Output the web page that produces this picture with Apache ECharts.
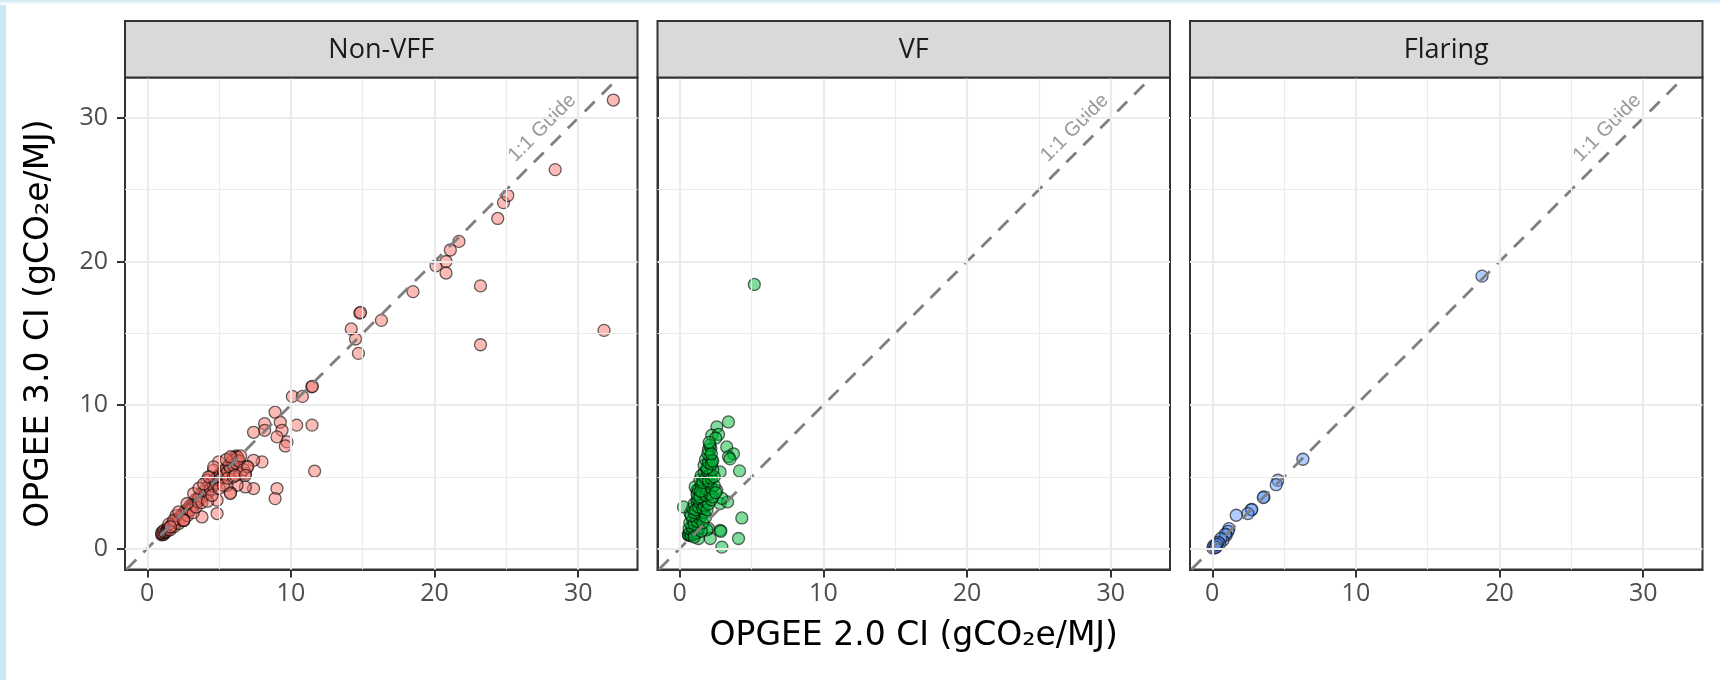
<!DOCTYPE html>
<html>
<head>
<meta charset="utf-8">
<script src="https://cdn.jsdelivr.net/npm/echarts@6/dist/echarts.min.js"></script>
<style>
  html, body { margin: 0; padding: 0; background: #ffffff; }
  #chart { width: 1720px; height: 680px; }
</style>
</head>
<body>
<div id="chart"></div>
<script>
// ---------- data ----------
const panels = ['Non-VFF', 'VF', 'Flaring'];
const xTitle = 'OPGEE 2.0 CI (gCO\u2082e/MJ)';
const yTitle = 'OPGEE 3.0 CI (gCO\u2082e/MJ)';
const guideText = '1:1 Guide';
const majorTicks = [0, 10, 20, 30];
const minorTicks = [5, 15, 25];
const guideEnds = [-5, 40];
const guideLabelPos = [27.5, 29.3];

// Non-VFF: [OPGEE 2.0 CI, OPGEE 3.0 CI]
const nonVFF = [
  [32.45,31.25],[28.4,26.4],[24.8,24.1],[25.1,24.6],[24.4,23.0],[21.7,21.4],[21.1,20.8],
  [20.1,19.7],[20.8,20.0],[20.8,19.2],[23.2,18.3],[18.5,17.9],[14.8,16.4],[14.85,16.45],
  [16.3,15.9],[14.2,15.3],[14.5,14.6],[14.7,13.6],[23.2,14.2],[31.8,15.2],
  [11.45,11.27],[11.5,11.3],[10.1,10.6],[10.8,10.6],[8.9,9.5],[9.26,8.8],[9.38,8.24],
  [9.03,7.78],[9.73,7.43],[9.61,7.15],[8.17,8.7],[8.17,8.24],[7.4,8.1],[10.4,8.6],
  [11.47,8.6],[11.65,5.4],[9.03,4.18],[8.9,3.48],[7.99,6.04],[7.4,6.15],[7.4,4.18],
  [6.83,4.29],[6.25,4.41],[5.8,3.9],[4.86,2.44],[3.81,2.2],[4.97,6.04],
  [6.01,6.27],[6.25,6.38],[5.9,6.15],[6.36,6.04],[6.1,6.3],[6.2,6.45],[5.95,6.35],
  [6.94,5.69],[6.83,5.23],[6.25,5.46],[5.55,4.41],[5.09,5.23],[4.62,5.46],[4.39,4.99],
  [4.16,4.76],[4.86,3.37],
  [1.0,0.95],[1.05,1.0],[1.1,1.05],[1.15,0.98],[1.2,1.1],[1.0,1.1],[1.1,1.2],[1.25,1.15],
  [1.3,1.25],[1.2,1.3],[1.35,1.2],[1.4,1.35],[1.45,1.3],[1.5,1.45],[1.55,1.4],[1.6,1.55],
  [1.65,1.5],[1.7,1.65],[1.75,1.6],[1.8,1.75],[1.85,1.7],[1.9,1.85],[1.95,1.8],[2.0,1.95],
  [2.05,1.85],[2.1,2.05],[2.15,2.0],[2.2,2.15],[2.25,2.05],[2.3,2.25],[2.35,2.15],[2.4,2.35],
  [2.45,2.2],[2.5,2.45],[2.55,2.3],[2.6,2.55],[2.7,2.5],[2.75,2.7],[2.8,2.6],[2.9,2.85],
  [2.95,2.7],[3.0,3.0],[3.1,2.85],[3.15,3.1],[3.2,2.95],[3.3,3.3],[3.35,3.1],[3.4,3.45],
  [3.5,3.3],[3.6,3.6],[3.7,3.4],[3.75,3.8],[3.85,3.6],[3.9,3.95],[4.0,3.75],[4.1,4.2],
  [4.2,3.95],[4.3,4.4],[4.4,4.15],[4.5,4.6],[4.6,4.35],[4.7,4.8],[4.8,4.55],[4.9,5.0],
  [5.0,4.8],[5.1,5.2],[5.2,4.95],[5.3,5.4],[5.4,5.15],[5.5,5.6],[5.6,5.35],[5.7,5.8],
  [5.8,5.6],[5.9,6.0],[6.0,5.8],[6.1,6.2],[6.2,5.95],[6.3,6.35],[6.4,6.1],[6.5,6.45],
  [1.6,1.3],[1.9,1.55],[2.2,1.75],[2.5,1.95],[2.55,1.97],[2.8,2.3],[3.0,2.67],[3.2,2.5],
  [3.58,3.48],[3.4,2.9],[3.8,3.2],[4.2,3.3],[4.5,3.7],[5.0,4.2],[5.3,4.4],[5.78,3.83],
  [5.6,4.9],[6.0,5.0],[6.5,5.2],[6.7,5.5],[7.0,5.7],
  [2.77,3.14],[3.23,3.83],[3.6,4.2],[3.93,4.5],[4.27,5.0],[4.62,5.69],[2.0,2.3],[1.5,1.7],
  [5.5,6.2],[5.8,6.4],[6.13,5.1],[6.83,5.1],[1.84,1.97],[2.19,2.56],[2.54,1.97],[1.61,1.51]
];

// VF
const vf = [
  [5.19,18.4],[3.39,8.82],[2.58,8.48],[2.23,7.9],[2.7,7.95],[2.5,7.7],[2.16,6.97],[3.27,7.08],
  [3.74,6.6],[3.39,6.4],[3.5,6.25],[4.16,5.41],[2.23,6.15],[2.12,5.57],[2.81,5.34],[1.65,4.18],
  [1.19,4.07],[0.26,2.9],[0.72,2.43],[2.81,3.14],[4.32,2.13],[0.72,0.93],[2.0,1.4],[2.81,1.27],
  [4.09,0.7],[2.93,0.1],[2.12,0.7],[1.3,0.7],[3.33,3.25],[2.93,3.5],[1.07,4.3],[1.65,4.2],
  [2.58,4.05],[0.61,0.93],[1.88,1.3],[2.86,1.2],
  [0.6,1.0],[0.7,1.1],[0.8,0.9],[0.9,1.2],[1.0,1.0],[1.1,1.3],[0.65,1.4],[1.2,1.1],[0.85,1.5],
  [1.3,1.4],[1.0,0.8],[1.5,1.2],
  [0.7,1.8],[0.9,2.0],[1.0,1.7],[1.1,2.2],[1.2,1.9],[1.3,2.4],[1.4,2.1],[1.5,2.3],[0.8,2.3],
  [1.6,1.8],[1.7,2.5],[1.8,2.2],[1.0,2.5],
  [0.9,2.8],[1.0,3.1],[1.1,2.7],[1.2,3.3],[1.3,2.9],[1.4,3.2],[1.5,3.4],[1.6,2.8],[1.7,3.0],
  [1.8,3.3],[1.9,2.7],[2.0,3.1],[2.2,3.4],[1.25,3.5],
  [1.2,3.8],[1.3,4.1],[1.4,3.6],[1.5,4.4],[1.6,3.9],[1.7,4.3],[1.8,3.7],[1.9,4.1],[2.0,4.5],
  [2.1,3.8],[2.2,4.2],[2.3,3.6],[2.4,4.4],[1.45,4.0],[2.5,3.9],
  [1.4,4.8],[1.5,5.1],[1.6,4.6],[1.7,5.3],[1.8,4.9],[1.9,5.4],[2.0,4.7],[2.1,5.2],[2.2,4.9],
  [2.4,5.0],[2.3,5.5],
  [1.7,5.8],[1.8,6.2],[1.9,5.6],[2.0,6.0],[2.1,6.4],[2.2,5.9],[1.95,6.6],[2.3,6.1],
  [2.0,6.9],[2.1,7.2],[2.2,6.6],[2.05,7.4]
];

// Flaring
const flaring = [
  [18.78,18.98],[6.31,6.22],[4.57,4.76],[4.45,4.45],[3.6,3.6],[3.55,3.55],[2.72,2.7],
  [2.75,2.72],[2.48,2.44],[1.67,2.32],[1.16,1.39],[1.1,1.2],[0.97,0.93],[0.9,1.0],
  [0.74,0.58],[0.6,0.7],[0.51,0.35],[0.4,0.45],[0.16,0.16],[0.04,0.04],[0.28,0.11],
  [0.1,0.2],[0.2,0.05],[0.3,0.3]
];

const seriesData = [nonVFF, vf, flaring];
const fills = ['rgba(248,118,109,0.5)', 'rgba(0,186,56,0.5)', 'rgba(97,156,255,0.5)'];

// ---------- layout ----------
const gridLefts = [125, 657.5, 1190];
const gridTop = 77.5, gridW = 512.5, gridH = 492;
const stripTop = 21;
const xRange = [-1.55, 34.13], yRange = [-1.46, 32.82];
const TICK_FONT = "'Open Sans', 'DejaVu Sans', sans-serif";
const TITLE_FONT = "'DejaVu Sans', 'Open Sans', sans-serif";
const GUIDE_FONT = "'Liberation Sans', Arial, sans-serif";

const grids = [], xAxes = [], yAxes = [], series = [], graphics = [];

graphics.push({ type: 'rect', shape: { x: 0, y: 0, width: 6, height: 680 }, style: { fill: '#cbe7f1' }, silent: true });
graphics.push({ type: 'rect', shape: { x: 0, y: 0, width: 1720, height: 5 },
  style: { fill: new echarts.graphic.LinearGradient(0, 0, 0, 1, [{ offset: 0, color: '#cfe8f2' }, { offset: 1, color: '#ffffff' }]) }, silent: true });

panels.forEach((name, i) => {
  grids.push({ left: gridLefts[i], top: gridTop, width: gridW, height: gridH,
    show: true, backgroundColor: '#ffffff', borderColor: '#333333', borderWidth: 2, containLabel: false });
  xAxes.push({ gridIndex: i, type: 'value', min: xRange[0], max: xRange[1],
    axisLine: { show: true, onZero: false, lineStyle: { color: '#333333', width: 2 } },
    axisTick: { show: true, length: 8, customValues: majorTicks, lineStyle: { color: '#333333', width: 2 } },
    axisLabel: { show: true, customValues: majorTicks, margin: 12, fontFamily: TICK_FONT, fontSize: 25, color: '#4d4d4d' },
    splitLine: { show: false }, minorTick: { show: false } });
  yAxes.push({ gridIndex: i, type: 'value', min: yRange[0], max: yRange[1],
    axisLine: { show: true, onZero: false, lineStyle: { color: '#333333', width: 2 } },
    axisTick: { show: i === 0, length: 8, customValues: majorTicks, lineStyle: { color: '#333333', width: 2 } },
    axisLabel: { show: i === 0, customValues: majorTicks, margin: 17, fontFamily: TICK_FONT, fontSize: 25, color: '#4d4d4d' },
    splitLine: { show: false } });

  const gl = [];
  majorTicks.forEach(v => { gl.push({ xAxis: v, lineStyle: { width: 2.2 } }); gl.push({ yAxis: v, lineStyle: { width: 2.2 } }); });
  minorTicks.forEach(v => { gl.push({ xAxis: v, lineStyle: { width: 1.1 } }); gl.push({ yAxis: v, lineStyle: { width: 1.1 } }); });
  series.push({ type: 'line', xAxisIndex: i, yAxisIndex: i, data: [], z: 1, silent: true,
    markLine: { silent: true, symbol: 'none', animation: false, label: { show: false },
      lineStyle: { color: '#ebebeb', type: 'solid' }, data: gl } });

  series.push({ type: 'scatter', name: name, xAxisIndex: i, yAxisIndex: i, data: seriesData[i], z: 2,
    symbol: 'circle', symbolSize: 12,
    itemStyle: { color: fills[i], borderColor: 'rgba(0,0,0,0.6)', borderWidth: 1.3, opacity: 1 } });

  series.push({ type: 'line', xAxisIndex: i, yAxisIndex: i, data: guideEnds.map(v => [v, v]), z: 3,
    symbol: 'none', silent: true, clip: true,
    lineStyle: { color: '#7f7f7f', width: 2.8, type: [14, 10] } });

  series.push({ type: 'scatter', xAxisIndex: i, yAxisIndex: i, data: [guideLabelPos], z: 4,
    symbolSize: 0, silent: true,
    label: { show: true, position: 'inside', formatter: guideText, rotate: 45,
      fontFamily: GUIDE_FONT, fontSize: 20, color: '#7f7f7f' } });

  graphics.push({ type: 'rect', shape: { x: gridLefts[i], y: stripTop, width: gridW, height: gridTop - stripTop },
    style: { fill: '#d9d9d9', stroke: '#333333', lineWidth: 2 }, silent: true, z: 10 });
  graphics.push({ type: 'text', x: gridLefts[i] + gridW / 2, y: (stripTop + gridTop) / 2 + 1,
    style: { text: name, font: "27px 'Open Sans', 'DejaVu Sans', sans-serif", fill: '#1a1a1a', align: 'center', verticalAlign: 'middle' }, silent: true, z: 11 });
});

graphics.push({ type: 'text', x: (gridLefts[0] + gridLefts[2] + gridW) / 2, y: 636,
  style: { text: xTitle, font: "33px " + TITLE_FONT, fill: '#000000', align: 'center', verticalAlign: 'middle' }, silent: true });
graphics.push({ type: 'text', x: 39, y: gridTop + gridH / 2, rotation: Math.PI / 2,
  style: { text: yTitle, font: "33px " + TITLE_FONT, fill: '#000000', align: 'center', verticalAlign: 'middle' }, silent: true });

const chart = echarts.init(document.getElementById('chart'), null, { renderer: 'canvas' });
chart.setOption({
  animation: false,
  backgroundColor: '#ffffff',
  grid: grids, xAxis: xAxes, yAxis: yAxes, series: series, graphic: graphics
});
</script>
</body>
</html>
